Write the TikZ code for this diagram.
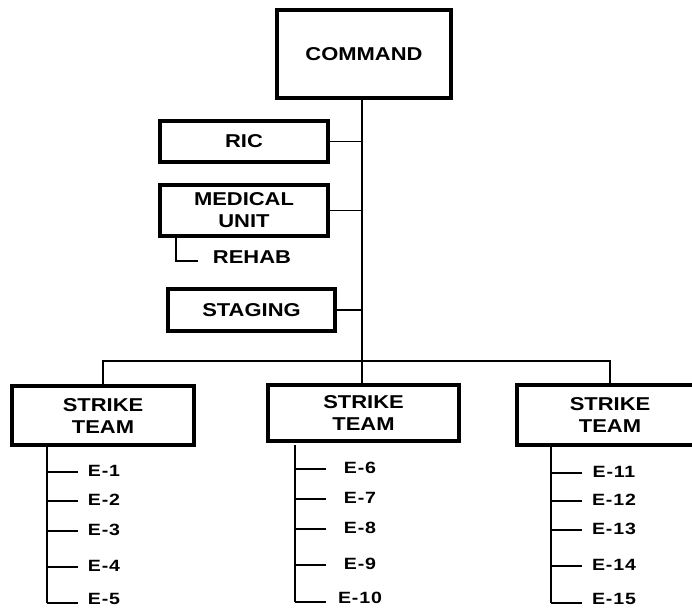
\documentclass[tikz,border=0pt]{standalone}
\usepackage{fontspec}
\setmainfont{Liberation Sans}[FakeStretch=1.18]
\newfontfamily\unitfont{Liberation Sans}[FakeStretch=1.2, LetterSpace=5]
\begin{document}
\begin{tikzpicture}[x=1pt, y=-1pt,
  box/.style={draw, line width=4pt, align=center, inner sep=0pt,
    font=\bfseries\fontsize{18.6}{22}\selectfont},
  tag/.style={inner sep=0pt, font=\bfseries\fontsize{18.6}{22}\selectfont},
  unit/.style={inner sep=0pt, font=\unitfont\bfseries\fontsize{16.3}{18}\selectfont},
  link/.style={line width=1.2pt}]
\useasboundingbox (0,0) rectangle (692,607);
\clip (0,0) rectangle (692,607);

% command and staff boxes
\node[box, minimum width=174, minimum height=88] (cmd) at (364,54) {COMMAND};
\node[box, minimum width=168, minimum height=41] (ric) at (244,141.5) {RIC};
\node[box, minimum width=168, minimum height=51] (med) at (244,210.5) {MEDICAL\\UNIT};
\node[tag] (rehab) at (252,257) {REHAB};
\node[box, minimum width=167, minimum height=42] (stg) at (251.5,310) {STAGING};

% strike teams
\node[box, minimum width=182, minimum height=59] (st1) at (103,415.5) {STRIKE\\TEAM};
\node[box, minimum width=191, minimum height=56] (st2) at (363.5,413) {STRIKE\\TEAM};
\node[box, minimum width=186, minimum height=60] (st3) at (610,415) {STRIKE\\TEAM};

% chain of command
\coordinate (bar) at (362,361);
\draw[link] (cmd.south -| bar) -- (bar |- st2.north);
\draw[link] (ric.east) -- (ric.east -| bar);
\draw[link] (med.east) -- (med.east -| bar);
\draw[link] (stg.east) -- (stg.east -| bar);
\draw[link] (st1.north) -- (st1.north |- bar) -| (st3.north);

% rehab under medical unit
\coordinate (rhtop) at (176,236);
\coordinate (rhend) at (198,261);
\draw[link] (rhtop) |- (rhend);

% engine companies of each strike team
\foreach \t/\xv/\xl/\first/\ys in {%
    1/47/104/1/{472,501,531,567,603},
    2/295/360/6/{469,499,529,565,602},
    3/551/614/11/{473,501,530,566,603}} {
  \coordinate (top\t) at (\xv,445);
  \foreach \y [count=\k from 0] in \ys {
    \pgfmathtruncatemacro{\n}{\first+\k}
    \pgfmathsetmacro{\dy}{\k==4 ? 4.5 : 1.5}
    \coordinate (b\n) at (\xv,\y);
    \coordinate (c\n) at (\xv+31,\y);
    \node[unit] (e\n) at (\xl,\y-\dy) {E-\n};
    \draw[link] (b\n) -- (c\n);
  }
  \pgfmathtruncatemacro{\last}{\first+4}
  \draw[link] (top\t) -- (b\last);
}
\end{tikzpicture}
\end{document}
